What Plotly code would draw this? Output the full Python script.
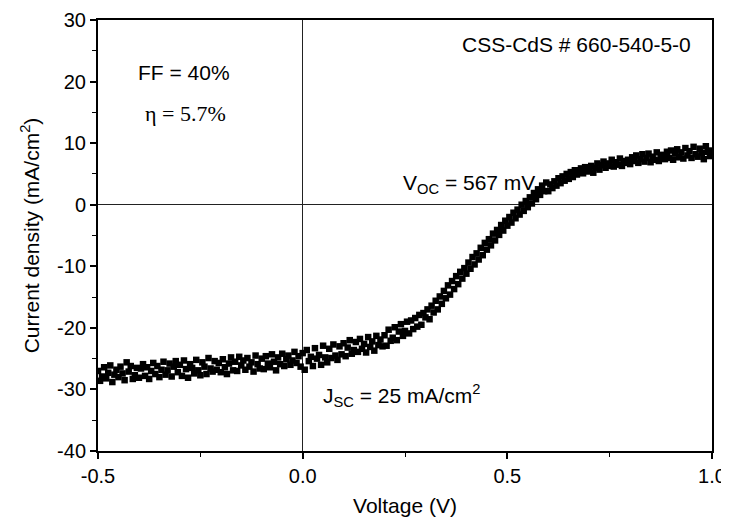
import plotly.graph_objects as go

# J-V Messdaten (Spannung in V, Stromdichte in mA/cm^2)
voltage = [
    -0.500, -0.495, -0.490, -0.485, -0.480, -0.475, -0.470, -0.465, -0.460, -0.455,
    -0.450, -0.445, -0.440, -0.435, -0.430, -0.425, -0.420, -0.415, -0.410, -0.405,
    -0.400, -0.395, -0.390, -0.385, -0.380, -0.375, -0.370, -0.365, -0.360, -0.355,
    -0.350, -0.345, -0.340, -0.335, -0.330, -0.325, -0.320, -0.315, -0.310, -0.305,
    -0.300, -0.295, -0.290, -0.285, -0.280, -0.275, -0.270, -0.265, -0.260, -0.255,
    -0.250, -0.245, -0.240, -0.235, -0.230, -0.225, -0.220, -0.215, -0.210, -0.205,
    -0.200, -0.195, -0.190, -0.185, -0.180, -0.175, -0.170, -0.165, -0.160, -0.155,
    -0.150, -0.145, -0.140, -0.135, -0.130, -0.125, -0.120, -0.115, -0.110, -0.105,
    -0.100, -0.095, -0.090, -0.085, -0.080, -0.075, -0.070, -0.065, -0.060, -0.055,
    -0.050, -0.045, -0.040, -0.035, -0.030, -0.025, -0.020, -0.015, -0.010, -0.005,
    0.000, 0.005, 0.010, 0.015, 0.020, 0.025, 0.030, 0.035, 0.040, 0.045,
    0.050, 0.055, 0.060, 0.065, 0.070, 0.075, 0.080, 0.085, 0.090, 0.095,
    0.100, 0.105, 0.110, 0.115, 0.120, 0.125, 0.130, 0.135, 0.140, 0.145,
    0.150, 0.155, 0.160, 0.165, 0.170, 0.175, 0.180, 0.185, 0.190, 0.195,
    0.200, 0.205, 0.210, 0.215, 0.220, 0.225, 0.230, 0.235, 0.240, 0.245,
    0.250, 0.255, 0.260, 0.265, 0.270, 0.275, 0.280, 0.285, 0.290, 0.295,
    0.300, 0.305, 0.310, 0.315, 0.320, 0.325, 0.330, 0.335, 0.340, 0.345,
    0.350, 0.355, 0.360, 0.365, 0.370, 0.375, 0.380, 0.385, 0.390, 0.395,
    0.400, 0.405, 0.410, 0.415, 0.420, 0.425, 0.430, 0.435, 0.440, 0.445,
    0.450, 0.455, 0.460, 0.465, 0.470, 0.475, 0.480, 0.485, 0.490, 0.495,
    0.500, 0.505, 0.510, 0.515, 0.520, 0.525, 0.530, 0.535, 0.540, 0.545,
    0.550, 0.555, 0.560, 0.565, 0.570, 0.575, 0.580, 0.585, 0.590, 0.595,
    0.600, 0.605, 0.610, 0.615, 0.620, 0.625, 0.630, 0.635, 0.640, 0.645,
    0.650, 0.655, 0.660, 0.665, 0.670, 0.675, 0.680, 0.685, 0.690, 0.695,
    0.700, 0.705, 0.710, 0.715, 0.720, 0.725, 0.730, 0.735, 0.740, 0.745,
    0.750, 0.755, 0.760, 0.765, 0.770, 0.775, 0.780, 0.785, 0.790, 0.795,
    0.800, 0.805, 0.810, 0.815, 0.820, 0.825, 0.830, 0.835, 0.840, 0.845,
    0.850, 0.855, 0.860, 0.865, 0.870, 0.875, 0.880, 0.885, 0.890, 0.895,
    0.900, 0.905, 0.910, 0.915, 0.920, 0.925, 0.930, 0.935, 0.940, 0.945,
    0.950, 0.955, 0.960, 0.965, 0.970, 0.975, 0.980, 0.985, 0.990, 0.995,
    1.000,
]

current = [
    -27.0, -28.6, -27.9, -26.4, -28.2, -27.3, -26.1, -28.8, -27.6, -26.8,
    -28.0, -26.3, -27.4, -28.5, -25.6, -27.1, -26.2, -28.3, -27.7, -26.5,
    -28.1, -26.6, -25.9, -27.8, -26.4, -28.3, -27.0, -25.7, -27.5, -26.2,
    -28.0, -26.8, -25.5, -27.6, -26.9, -25.8, -27.9, -26.3, -25.4, -27.2,
    -26.0, -27.8, -25.3, -26.7, -28.1, -25.9, -26.5, -27.4, -25.2, -26.9,
    -27.7, -25.6, -26.3, -27.5, -24.9, -26.6, -27.1, -25.4, -26.8, -25.7,
    -27.2, -25.1, -26.4, -27.5, -25.8, -24.8, -26.9, -25.5, -27.0, -24.7,
    -26.1, -25.3, -26.8, -24.9, -26.3, -25.6, -27.1, -24.5, -25.9, -26.6,
    -25.0, -26.7, -24.6, -25.8, -26.4, -24.3, -25.5, -26.9, -24.8, -25.9,
    -24.2, -26.2, -25.1, -24.5, -26.0, -25.3, -23.9, -25.7, -24.6, -26.3,
    -24.1, -26.8, -23.6, -25.4, -24.7, -26.2, -23.3, -25.0, -24.4, -26.0,
    -22.9, -24.8, -25.6, -23.4, -24.9, -22.7, -24.5, -25.2, -23.0, -24.3,
    -22.5, -24.6, -23.2, -22.0, -24.2, -23.6, -22.3, -23.9, -21.8, -23.4,
    -22.6, -24.0, -21.5, -23.1, -22.2, -23.7, -21.3, -22.8, -21.9, -23.0,
    -21.2, -22.9, -20.3, -22.1, -21.6, -19.9, -22.0, -20.6, -19.4, -21.3,
    -20.5, -19.0, -20.9, -18.8, -20.2, -18.4, -19.8, -17.9, -19.5, -17.6,
    -18.3, -17.0, -18.6, -16.4, -17.5, -15.6, -17.0, -14.9, -16.1, -14.0,
    -15.2, -13.1, -14.6, -12.4, -13.7, -11.6, -12.9, -10.9, -12.0, -10.3,
    -11.2, -9.4, -10.4, -8.5, -9.7, -7.9, -8.9, -7.0, -8.2, -6.2,
    -7.3, -5.6, -6.6, -4.7, -5.8, -4.1, -4.9, -3.3, -4.2, -2.6,
    -3.4, -2.0, -2.9, -1.3, -2.2, -0.8, -1.6, 0.0, -1.0, 0.6,
    -0.4, 1.2, 0.2, 1.9, 0.9, 2.5, 1.6, 3.1, 2.2, 3.6,
    2.2, 3.3, 2.7, 3.8, 3.1, 4.3, 3.5, 4.6, 3.9, 5.0,
    4.2, 5.3, 4.5, 5.6, 4.9, 5.4, 5.9, 5.1, 6.1, 5.5,
    5.4, 6.3, 5.2, 6.0, 6.7, 5.7, 6.4, 7.0, 6.0, 6.7,
    6.3, 7.3, 6.2, 6.9, 6.5, 7.5, 6.3, 7.1, 6.8, 7.3,
    6.6, 7.7, 7.1, 8.0, 6.8, 7.4, 8.2, 7.0, 7.6, 8.3,
    6.9, 7.8, 7.3, 8.5, 7.1, 7.9, 8.1, 7.4, 8.6, 7.6,
    8.8, 7.3, 8.3, 9.0, 7.7, 8.5, 7.5, 9.2, 8.0, 8.7,
    7.6, 9.4, 8.2, 7.8, 9.1, 8.4, 7.4, 9.5, 8.6, 7.9,
    8.8,
]

x_ticks = [-0.5, 0.0, 0.5, 1.0]
x_labels = ["-0.5", "0.0", "0.5", "1.0"]
y_ticks = [-40, -30, -20, -10, 0, 10, 20, 30]
y_labels = ["-40", "-30", "-20", "-10", "0", "10", "20", "30"]

font_main = "Liberation Sans, Arial, sans-serif"

fig = go.Figure(go.Scatter(
    x=voltage, y=current, mode="markers",
    marker=dict(symbol="square", size=6.5, color="black", line=dict(width=0)),
    cliponaxis=True, showlegend=False,
))

achse = dict(
    showline=True, linecolor="black", linewidth=2, mirror=True,
    ticks="outside", ticklen=6, tickwidth=1.5, tickcolor="black",
    showgrid=False, zeroline=True, zerolinecolor="#222222", zerolinewidth=1.3,
    tickfont=dict(family=font_main, size=20, color="black"),
    automargin=False, ticklabeloverflow="allow",
)

fig.update_xaxes(
    range=[-0.5, 1.0], tickvals=x_ticks, ticktext=x_labels,
    minor=dict(ticks="outside", tickvals=[-0.25, 0.25, 0.75], ticklen=4, tickwidth=1.2, tickcolor="black"),
    title=dict(text="Voltage (V)", font=dict(family=font_main, size=21, color="black"), standoff=12),
    **achse,
)
fig.update_yaxes(
    range=[-40, 30], tickvals=y_ticks, ticktext=y_labels,
    minor=dict(ticks="outside", tickvals=[-35, -25, -15, -5, 5, 15, 25], ticklen=4, tickwidth=1.2, tickcolor="black"),
    title=dict(text="Current density (mA/cm<sup>2</sup>)", font=dict(family=font_main, size=21, color="black"), standoff=12),
    **achse,
)

def notiz(x, y, text, anchor="left", family=font_main, size=21):
    fig.add_annotation(x=x, y=y, text=text, showarrow=False, xanchor=anchor, yanchor="middle",
                       font=dict(family=family, size=size, color="black"))

notiz(0.954, 26.0, "CSS-CdS # 660-540-5-0", anchor="right")
notiz(-0.408, 21.5, "FF = 40%")
notiz(-0.390, 14.8, "η = 5.7%", family="Liberation Serif, Times New Roman, serif", size=22)
notiz(0.240, 3.4, "V<sub>OC</sub> = 567 mV")
notiz(0.044, -31.0, "J<sub>SC</sub> = 25 mA/cm<sup>2</sup>")

# Seite hat 8px Rand, daher Figur etwas kleiner und Raender verschoben
fig.update_layout(
    width=721, height=518,
    margin=dict(l=90, r=17, t=12, b=75),
    plot_bgcolor="white", paper_bgcolor="white",
)

fig.write_html("out.html")
